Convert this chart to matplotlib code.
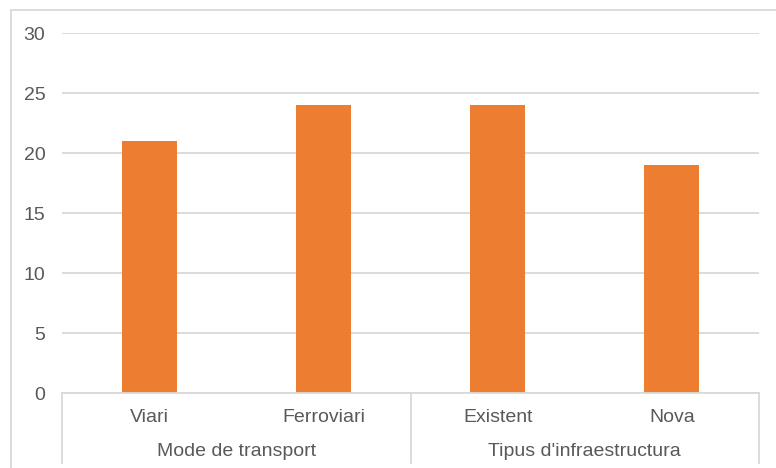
import matplotlib
matplotlib.use("Agg")
import matplotlib.pyplot as plt
from matplotlib.patches import Rectangle
from matplotlib.lines import Line2D

# Data
categories = ["Viari", "Ferroviari", "Existent", "Nova"]
values = [21, 24, 24, 19]
groups = ["Mode de transport", "Tipus d'infraestructura"]
group_sizes = [2, 2]
yticks = [0, 5, 10, 15, 20, 25, 30]

W, H, DPI = 776, 468, 100
plt.rcParams["font.family"] = ["Liberation Sans", "DejaVu Sans"]
text_color = "#595959"
grid_color = "#D9D9D9"
bar_color = "#ED7D31"
fs = 14

fig = plt.figure(figsize=(W / DPI, H / DPI), dpi=DPI)

# Chart frame (extends past the right and bottom edge)
fig.patches.append(Rectangle((11 / W, -0.1), 1.2, (H - 10) / H + 0.1,
                             transform=fig.transFigure, fill=False,
                             edgecolor=grid_color, linewidth=1.3))

left, right, top, bottom = 62, 759, 33, 393
ax = fig.add_axes([left / W, 1 - bottom / H, (right - left) / W, (bottom - top) / H])

x = list(range(len(categories)))
ax.bar(x, values, width=0.316, color=bar_color, zorder=3)

ax.set_xlim(-0.5, len(categories) - 0.5)
ax.set_ylim(0, 30)
ax.set_yticks(yticks)
ax.set_yticklabels([str(t) for t in yticks], fontsize=fs, color=text_color)
ax.tick_params(axis="y", length=0, pad=12)
ax.set_xticks([])
ax.yaxis.grid(True, color=grid_color, linewidth=1.3, zorder=0)
for s in ["top", "right", "left"]:
    ax.spines[s].set_visible(False)
ax.spines["bottom"].set_color(grid_color)
ax.spines["bottom"].set_linewidth(1.3)
ax.spines["bottom"].set_zorder(4)

tr = ax.get_xaxis_transform()
ph = bottom - top
cat_y = -(417 - bottom) / ph
grp_y = -(451 - bottom) / ph
sep_bottom = -(463 - bottom) / ph

for xi, c in zip(x, categories):
    ax.text(xi, cat_y, c, transform=tr, ha="center", va="center",
            fontsize=fs, color=text_color)

start = 0
seps = [-0.5]
for g, n in zip(groups, group_sizes):
    center = start + (n - 1) / 2
    ax.text(center, grp_y, g, transform=tr, ha="center", va="center",
            fontsize=fs, color=text_color)
    start += n
    seps.append(start - 0.5)

for sx in seps:
    ax.add_line(Line2D([sx, sx], [0, sep_bottom], transform=tr, color=grid_color,
                       linewidth=1.3, clip_on=False))

fig.savefig("out.png", dpi=DPI)
